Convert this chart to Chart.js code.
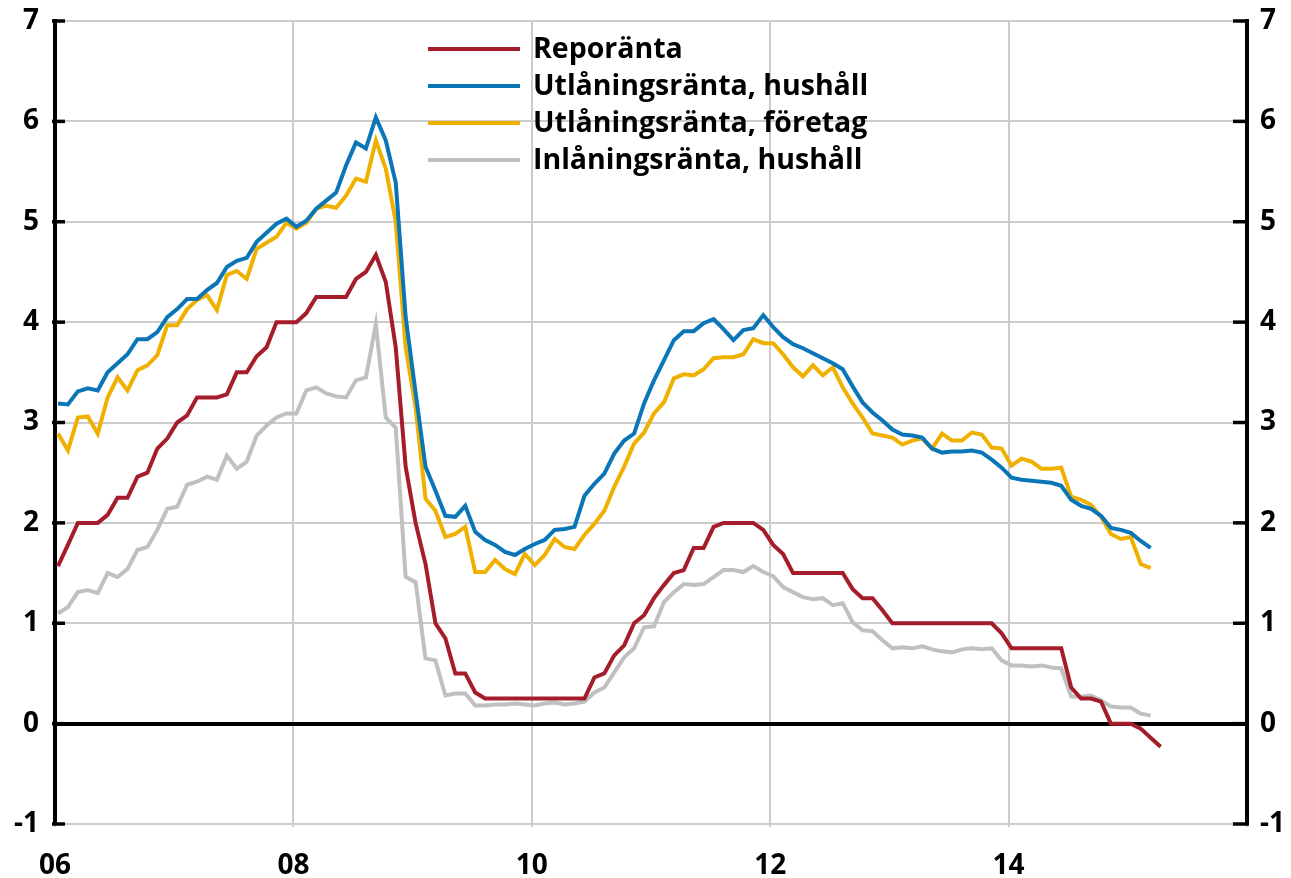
<!DOCTYPE html>
<html lang="sv">
<head>
<meta charset="utf-8">
<title>Reporänta och räntor till hushåll och företag</title>
<script src="https://cdn.jsdelivr.net/npm/chart.js@4.4.1/dist/chart.umd.min.js"></script>
<style>
  html, body { margin: 0; padding: 0; background: #ffffff; }
  #wrap { width: 1291px; height: 878px; }
</style>
</head>
<body>
<div id="wrap"><canvas id="chart" width="1291" height="878"></canvas></div>
<script>
// Monthly series, January 2006 onwards (percent)
const reporanta = [
  1.57, 1.78, 2.0, 2.0, 2.0, 2.08, 2.25, 2.25, 2.46, 2.5, 2.74, 2.84,
  3.0, 3.07, 3.25, 3.25, 3.25, 3.28, 3.5, 3.5, 3.66, 3.75, 4.0, 4.0,
  4.0, 4.09, 4.25, 4.25, 4.25, 4.25, 4.43, 4.5, 4.67, 4.4, 3.75, 2.56,
  2.0, 1.59, 1.0, 0.85, 0.5, 0.5, 0.31, 0.25, 0.25, 0.25, 0.25, 0.25,
  0.25, 0.25, 0.25, 0.25, 0.25, 0.25, 0.46, 0.5, 0.68, 0.78, 1.0, 1.08,
  1.25, 1.38, 1.5, 1.53, 1.75, 1.75, 1.96, 2.0, 2.0, 2.0, 2.0, 1.93,
  1.78, 1.69, 1.5, 1.5, 1.5, 1.5, 1.5, 1.5, 1.34, 1.25, 1.25, 1.13,
  1.0, 1.0, 1.0, 1.0, 1.0, 1.0, 1.0, 1.0, 1.0, 1.0, 1.0, 0.9,
  0.75, 0.75, 0.75, 0.75, 0.75, 0.75, 0.36, 0.25, 0.25, 0.22, 0.0, 0.0,
  0.0, -0.05, -0.14, -0.23
];

const utlaningHushall = [
  3.19, 3.18, 3.31, 3.34, 3.32, 3.5, 3.59, 3.68, 3.83, 3.83, 3.9, 4.05,
  4.13, 4.23, 4.23, 4.32, 4.39, 4.55, 4.61, 4.64, 4.8, 4.89, 4.98, 5.03,
  4.95, 5.01, 5.13, 5.21, 5.29, 5.56, 5.79, 5.73, 6.04, 5.81, 5.39, 4.05,
  3.3, 2.56, 2.32, 2.07, 2.06, 2.17, 1.91, 1.83, 1.78, 1.71, 1.68, 1.74,
  1.79, 1.83, 1.93, 1.94, 1.96, 2.27, 2.39, 2.49, 2.69, 2.82, 2.89, 3.19,
  3.42, 3.62, 3.82, 3.91, 3.91, 3.99, 4.03, 3.93, 3.82, 3.92, 3.94, 4.07,
  3.95, 3.85, 3.78, 3.74, 3.69, 3.64, 3.59, 3.53, 3.36, 3.2, 3.1, 3.02,
  2.93, 2.88, 2.87, 2.85, 2.74, 2.7, 2.71, 2.71, 2.72, 2.7, 2.63, 2.55,
  2.45, 2.43, 2.42, 2.41, 2.4, 2.37, 2.23, 2.17, 2.14, 2.07, 1.95, 1.93,
  1.9, 1.82, 1.75
];

const utlaningForetag = [
  2.89, 2.72, 3.05, 3.06, 2.89, 3.25, 3.45, 3.32, 3.52, 3.57, 3.67, 3.97,
  3.97, 4.13, 4.22, 4.27, 4.12, 4.47, 4.51, 4.43, 4.73, 4.79, 4.85, 4.99,
  4.93, 4.99, 5.13, 5.16, 5.14, 5.26, 5.43, 5.4, 5.81, 5.53, 5.0, 3.75,
  3.15, 2.24, 2.12, 1.86, 1.89, 1.96, 1.51, 1.51, 1.63, 1.54, 1.49, 1.69,
  1.58, 1.68, 1.84, 1.76, 1.74, 1.88, 1.99, 2.12, 2.36, 2.56, 2.79, 2.9,
  3.09, 3.2, 3.44, 3.48, 3.47, 3.53, 3.64, 3.65, 3.65, 3.68, 3.83, 3.79,
  3.79, 3.68, 3.55, 3.46, 3.57, 3.47, 3.55, 3.35, 3.19, 3.05, 2.89, 2.87,
  2.85, 2.78, 2.82, 2.84, 2.74, 2.89, 2.82, 2.82, 2.9, 2.88, 2.75, 2.74,
  2.57, 2.64, 2.61, 2.54, 2.54, 2.55, 2.26, 2.23, 2.18, 2.06, 1.89, 1.84,
  1.86, 1.59, 1.55
];

const inlaningHushall = [
  1.1, 1.16, 1.31, 1.33, 1.3, 1.5, 1.46, 1.54, 1.73, 1.76, 1.93, 2.14,
  2.16, 2.38, 2.41, 2.46, 2.43, 2.67, 2.54, 2.61, 2.87, 2.97, 3.05, 3.09,
  3.09, 3.32, 3.35, 3.29, 3.26, 3.25, 3.42, 3.45, 3.98, 3.05, 2.95, 1.46,
  1.41, 0.65, 0.63, 0.28, 0.3, 0.3, 0.18, 0.18, 0.19, 0.19, 0.2, 0.19,
  0.18, 0.2, 0.21, 0.19, 0.2, 0.22, 0.31, 0.36, 0.51, 0.66, 0.75, 0.96,
  0.97, 1.21, 1.31, 1.39, 1.38, 1.39, 1.46, 1.53, 1.53, 1.51, 1.57, 1.51,
  1.47, 1.36, 1.31, 1.26, 1.24, 1.25, 1.18, 1.2, 1.01, 0.93, 0.92, 0.83,
  0.75, 0.76, 0.75, 0.77, 0.74, 0.72, 0.71, 0.74, 0.75, 0.74, 0.75, 0.63,
  0.58, 0.58, 0.57, 0.58, 0.56, 0.55, 0.27, 0.27, 0.28, 0.23, 0.17, 0.16,
  0.16, 0.1, 0.08
];

const seriesNames = [
  "Reporänta",
  "Utlåningsränta, hushåll",
  "Utlåningsränta, företag",
  "Inlåningsränta, hushåll"
];
const seriesColors = ["#a51d2a", "#0a76b8", "#f0b000", "#c0c0c0"];

// x axis: months since Jan 2006, labelled every second year
const yearLabels = ["06", "08", "10", "12", "14", ""];
const MONTHS_PER_LABEL = 24;
const MONTH_POS = 0.3; // where in the month each observation sits

const FONT = "'Open Sans', 'DejaVu Sans', sans-serif";

function toPoints(values) {
  return values.map((v, i) => ({ x: i + MONTH_POS, y: v }));
}

const legendPlugin = {
  id: "insideLegend",
  afterDatasetsDraw(chart) {
    const ctx = chart.ctx;
    ctx.save();
    ctx.font = "bold 28.5px " + FONT;
    ctx.textBaseline = "middle";
    ctx.textAlign = "left";
    chart.data.datasets.forEach((ds, i) => {
      const y = 49 + i * 37;
      ctx.strokeStyle = ds.borderColor;
      ctx.lineWidth = 4;
      ctx.beginPath();
      ctx.moveTo(428, y);
      ctx.lineTo(520, y);
      ctx.stroke();
      ctx.fillStyle = "#000000";
      ctx.fillText(ds.label, 533, y + 1);
    });
    ctx.restore();
  },
};

// short black tick marks pointing into the plot on both value axes
const inwardTicks = {
  id: "inwardTicks",
  afterDraw(chart) {
    const ctx = chart.ctx;
    const left = chart.scales.y;
    const right = chart.scales.y2;
    ctx.save();
    ctx.strokeStyle = "#000000";
    ctx.lineWidth = 3.5;
    left.ticks.forEach((t) => {
      const py = left.getPixelForValue(t.value);
      ctx.beginPath();
      ctx.moveTo(left.right - 3, py);
      ctx.lineTo(left.right + 10, py);
      ctx.stroke();
    });
    right.ticks.forEach((t) => {
      const py = right.getPixelForValue(t.value);
      ctx.beginPath();
      ctx.moveTo(right.left + 2, py);
      ctx.lineTo(right.left - 14, py);
      ctx.stroke();
    });
    ctx.restore();
  },
};

const datasets = [reporanta, utlaningHushall, utlaningForetag, inlaningHushall].map((values, i) => ({
  label: seriesNames[i],
  data: toPoints(values),
  borderColor: seriesColors[i],
  backgroundColor: seriesColors[i],
  borderWidth: 4,
  borderJoinStyle: "miter",
  borderCapStyle: "butt",
  pointRadius: 0,
  tension: 0,
  fill: false,
}));

const valueTicks = {
  color: "#000000",
  font: { family: FONT, size: 28, weight: "bold" },
  stepSize: 1,
};

// fixed axis sizes so the plot area sits where the original one does
function fitValueAxis(width) {
  return function (scale) {
    scale.width = width;
    scale.paddingTop = 0;
    scale.paddingBottom = 0;
  };
}

new Chart(document.getElementById("chart"), {
  type: "line",
  data: { datasets },
  options: {
    responsive: false,
    animation: false,
    events: [],
    layout: { padding: { top: 21, left: 0, right: 0, bottom: 0 } },
    plugins: {
      legend: { display: false },
      tooltip: { enabled: false },
    },
    scales: {
      x: {
        type: "linear",
        min: 0,
        max: 120,
        afterFit(scale) {
          scale.height = 54;
          scale.paddingLeft = 0;
          scale.paddingRight = 0;
        },
        border: { display: false },
        grid: {
          color: "#cccccc",
          lineWidth: 2,
          drawTicks: true,
          tickLength: 3,
          tickColor: "#cccccc",
        },
        ticks: {
          stepSize: MONTHS_PER_LABEL,
          color: "#000000",
          font: { family: FONT, size: 28, weight: "bold" },
          padding: 22,
          maxRotation: 0,
          callback(value) {
            return yearLabels[Math.round(value / MONTHS_PER_LABEL)];
          },
        },
      },
      y: {
        position: "left",
        min: -1,
        max: 7,
        afterFit: fitValueAxis(55),
        border: { display: true, color: "#000000", width: 4 },
        grid: {
          drawTicks: false,
          color(ctx) { return ctx.tick && ctx.tick.value === 0 ? "#000000" : "#cccccc"; },
          lineWidth(ctx) { return ctx.tick && ctx.tick.value === 0 ? 4 : 2; },
        },
        ticks: Object.assign({ padding: 16 }, valueTicks),
      },
      y2: {
        position: "right",
        min: -1,
        max: 7,
        afterFit: fitValueAxis(44),
        border: { display: true, color: "#000000", width: 4 },
        grid: { display: false, drawTicks: false },
        ticks: Object.assign({ padding: 13 }, valueTicks),
      },
    },
  },
  plugins: [legendPlugin, inwardTicks],
});
</script>
</body>
</html>
